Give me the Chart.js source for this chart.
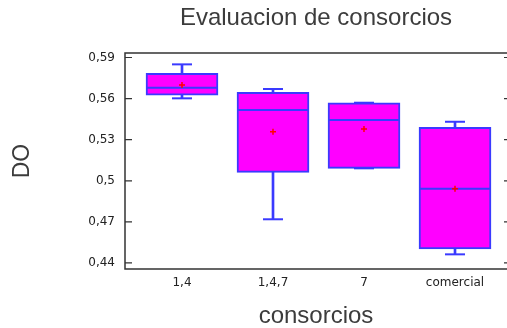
<!DOCTYPE html>
<html>
<head>
<meta charset="utf-8">
<script src="https://cdn.jsdelivr.net/npm/chart.js@4"></script>
<style>
  body { margin: 0; background: #fff; }
  #wrap { width: 507px; height: 328px; }
</style>
</head>
<body>
<div id="wrap"><canvas id="myChart"></canvas></div>
<script>
const groups = ['1,4', '1,4,7', '7', 'comercial']
const whiskerMin = [0.5602, 0.4719, 0.5091, 0.4463]
const q1 = [0.5626, 0.5062, 0.5091, 0.4502]
const medians = [0.568, 0.5517, 0.5444, 0.4942]
const q3 = [0.5785, 0.5646, 0.557, 0.539]
const whiskerMax = [0.585, 0.567, 0.557, 0.5431]
const means = [0.570, 0.5358, 0.5378, 0.4942]
const yTicks = [0.44, 0.47, 0.5, 0.53, 0.56, 0.59]

const blue = '#3a3aff'
const magenta = '#ff00ff'
const textColor = '#3c3c3c'

const pts = arr => arr.map((v, i) => ({ x: i, y: v }))

// frame with inward ticks, like the original plot
const framePlugin = {
  id: 'frame',
  beforeDatasetsDraw(chart) {
    const { ctx, chartArea: a, scales } = chart
    ctx.save()
    ctx.strokeStyle = '#333'
    ctx.lineWidth = 1.5
    ctx.beginPath()
    ctx.moveTo(a.right + 2, a.top)
    ctx.lineTo(a.left, a.top)
    ctx.lineTo(a.left, a.bottom)
    ctx.lineTo(a.right + 2, a.bottom)
    ctx.stroke()
    ctx.lineWidth = 1.2
    yTicks.forEach(v => {
      const y = scales.y.getPixelForValue(v)
      ctx.beginPath()
      ctx.moveTo(a.left, y)
      ctx.lineTo(a.left + 7, y)
      ctx.moveTo(a.right - 3, y)
      ctx.lineTo(a.right, y)
      ctx.stroke()
    })
    ctx.restore()
  }
}

new Chart('myChart', {
  type: 'bar',
  data: {
    datasets: [{
      type: 'line',
      data: pts(means),
      showLine: false,
      pointStyle: 'cross',
      pointRadius: 3,
      borderColor: '#ff0000',
      borderWidth: 1.5,
      order: 0
    }, {
      type: 'line',
      data: pts(medians),
      showLine: false,
      pointStyle: 'line',
      pointRadius: 36,
      borderColor: blue,
      borderWidth: 2,
      order: 1
    }, {
      data: groups.map((g, i) => ({ x: i, y: [q1[i], q3[i]] })),
      backgroundColor: magenta,
      borderColor: blue,
      borderWidth: 2,
      borderSkipped: false,
      barThickness: 72,
      grouped: false,
      order: 2
    }, {
      type: 'line',
      data: pts(whiskerMax).concat(pts(whiskerMin)),
      showLine: false,
      pointStyle: 'line',
      pointRadius: 10,
      borderColor: blue,
      borderWidth: 2,
      order: 3
    }, {
      data: groups.map((g, i) => ({ x: i, y: [whiskerMin[i], whiskerMax[i]] })),
      backgroundColor: blue,
      borderWidth: 0,
      barThickness: 2,
      grouped: false,
      order: 4
    }]
  },
  plugins: [framePlugin],
  options: {
    responsive: true,
    maintainAspectRatio: false,
    animation: false,
    layout: { padding: 0, autoPadding: false },
    plugins: {
      legend: { display: false },
      tooltip: { enabled: false },
      title: {
        display: true,
        text: 'Evaluacion de consorcios',
        fullSize: false,
        color: textColor,
        font: { family: 'Liberation Sans, Arial', size: 24, weight: 'normal', lineHeight: 1 },
        padding: { top: 6, bottom: 23 }
      }
    },
    scales: {
      x: {
        type: 'linear',
        offset: false,
        min: -0.6264,
        max: 3.5714,
        afterBuildTicks: s => { s.ticks = groups.map((g, i) => ({ value: i })) },
        afterFit: s => {
          s.height = 59
          s.paddingLeft = 0
          s.paddingRight = 0
        },
        ticks: {
          color: '#222',
          padding: 7,
          font: { family: 'DejaVu Sans', size: 12 },
          callback: v => groups[v]
        },
        grid: { display: false, drawTicks: false, offset: false },
        border: { display: false },
        title: {
          display: true,
          text: 'consorcios',
          color: textColor,
          font: { family: 'Liberation Sans, Arial', size: 24, lineHeight: 1 },
          padding: { top: 0, bottom: 0 }
        }
      },
      y: {
        min: 0.4356,
        max: 0.5933,
        afterBuildTicks: s => { s.ticks = yTicks.map(v => ({ value: v })) },
        afterFit: s => {
          s.width = 125
          s.paddingTop = 0
          s.paddingBottom = 0
        },
        ticks: {
          color: '#222',
          padding: 10,
          font: { family: 'DejaVu Sans', size: 12 },
          callback: v => String(v).replace('.', ',')
        },
        grid: { display: false, drawTicks: false },
        border: { display: false },
        title: {
          display: true,
          text: 'DO',
          color: textColor,
          font: { family: 'Liberation Sans, Arial', size: 23, lineHeight: 1 },
          padding: { top: 11, bottom: 0 }
        }
      }
    }
  }
})
</script>
</body>
</html>
